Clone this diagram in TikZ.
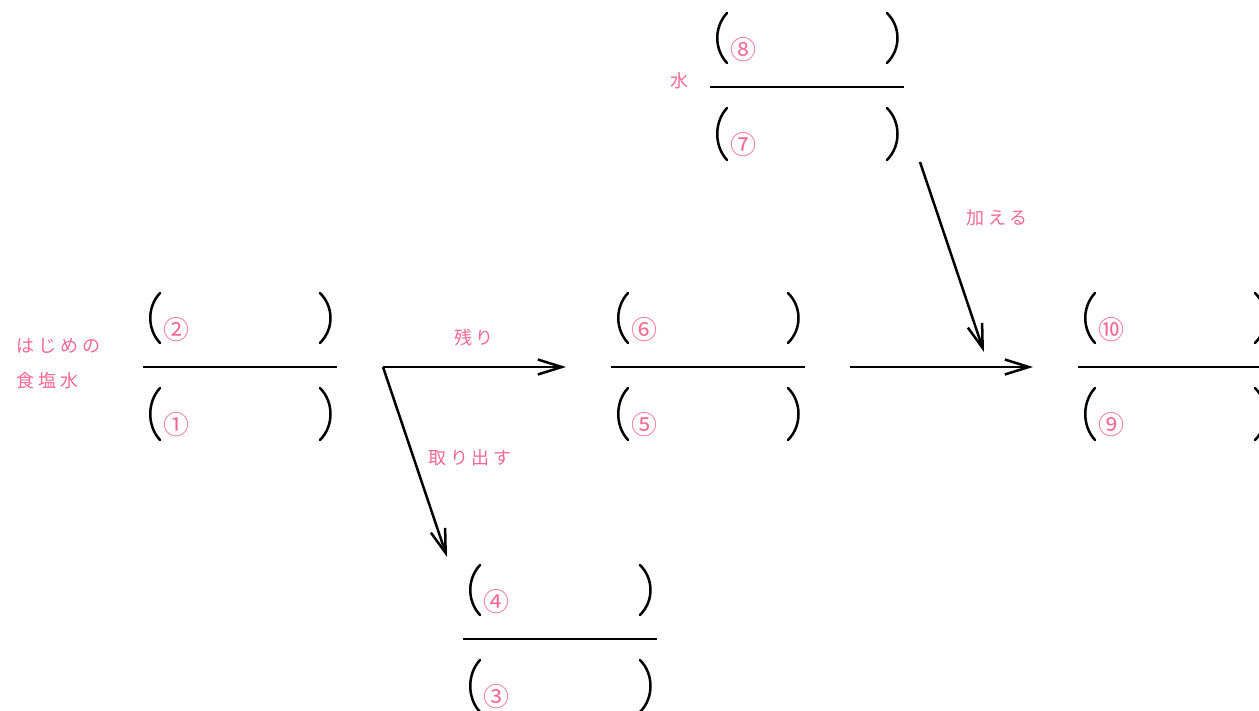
\documentclass[tikz,border=0pt]{standalone}
\usepackage{fontspec}
\newfontfamily\jpfont{Noto Sans CJK JP}
\usepackage{tikz}
\usetikzlibrary{arrows.meta}
\usepackage{xcolor}
\definecolor{notepink}{RGB}{245,105,145}

\begin{document}
\begin{tikzpicture}[
  x=1pt, y=-1pt,
  bar/.style={line width=2.5pt, black},
  paren/.style={line width=2.5pt, black, line cap=round},
  flow/.style={line width=2.5pt, -{Straight Barb[length=24pt, width=15pt]}},
  maru/.style={font=\jpfont\fontsize{26}{26}\selectfont, text=notepink, inner sep=0pt},
  note/.style={font=\jpfont\fontsize{18}{18}\selectfont\addfontfeature{LetterSpace=22},
               text=notepink, inner sep=0pt}
]
  \useasboundingbox (0,0) rectangle (1259,711);

  % fractions: name / left end / height / top / bottom
  \foreach \nm/\lx/\ly/\up/\dn in {a/143/367/②/①, b/611/367/⑥/⑤, c/1078/367/⑩/⑨,
                                    d/710/87/⑧/⑦, e/463/639/④/③}{
    \draw[bar] (\lx,\ly) coordinate (\nm-l) -- (\lx+194,\ly) coordinate (\nm-r);
    \draw[paren] (\lx+17,\ly-74) .. controls (\lx+4,\ly-60) and (\lx+4,\ly-38) .. (\lx+17,\ly-24);
    \draw[paren] (\lx+177,\ly-74) .. controls (\lx+191,\ly-60) and (\lx+191,\ly-38) .. (\lx+177,\ly-24);
    \draw[paren] (\lx+17,\ly+21) .. controls (\lx+4,\ly+35) and (\lx+4,\ly+59) .. (\lx+17,\ly+73);
    \draw[paren] (\lx+177,\ly+21) .. controls (\lx+191,\ly+35) and (\lx+191,\ly+59) .. (\lx+177,\ly+73);
    \node[maru] (\nm-up) at (\lx+33,\ly-37) {\up};
    \node[maru] (\nm-dn) at (\lx+33,\ly+58) {\dn};
  }

  % arrow ends
  \coordinate (split)   at (383,367);
  \coordinate (rest)    at (566,367);
  \coordinate (out)     at (447,557);
  \coordinate (join)    at (850,367);
  \coordinate (mixed)   at (1033,367);
  \coordinate (pour)    at (920,162);
  \coordinate (poured)  at (984,352);

  \draw[flow] (split) -- (rest);
  \draw[flow] (split) -- (out);
  \draw[flow] (join) -- (mixed);
  \draw[flow] (pour) -- (poured);

  % labels
  \node[note, anchor=west] (start1) at (16,346) {はじめの};
  \node[note, anchor=west] (start2) at (16,381) {食塩水};
  \node[note] (water)  at (679,81)  {水};
  \node[note] (restlb) at (474,338) {残り};
  \node[note] (outlb)  at (470,458) {取り出す};
  \node[note] (addlb)  at (997,218) {加える};
\end{tikzpicture}
\end{document}
